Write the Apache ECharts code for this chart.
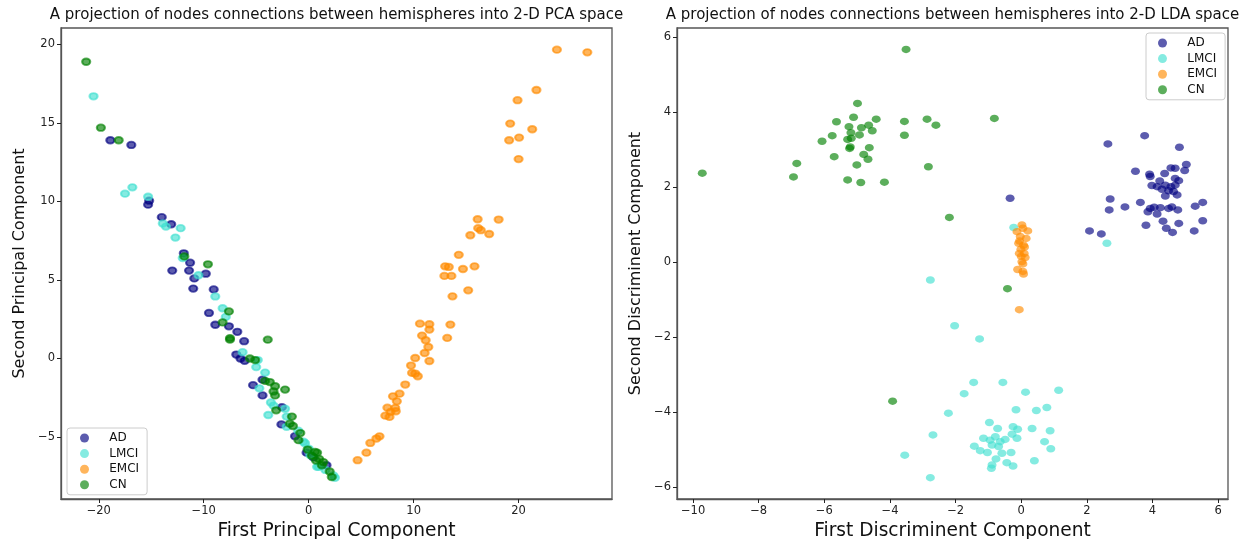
<!DOCTYPE html>
<html>
<head>
<meta charset="utf-8">
<script src="https://cdn.jsdelivr.net/npm/echarts@6/dist/echarts.min.js"></script>
<style>
html,body{margin:0;padding:0;background:#fff;}
#chart{width:1247px;height:539px;}
</style>
</head>
<body>
<div id="chart"></div>
<script>
// class names, same order as the legend
var groups = ['AD', 'LMCI', 'EMCI', 'CN'];
var colors = ['0,0,128', '64,224,208', '255,140,0', '0,128,0'];

// PCA projection (left panel)
var pcaAD = [[-18.9,13.9],[-16.9,13.6],[-15.2,10.05],[-15.3,9.8],[-14.0,9.0],[-13.1,8.55],[-11.9,6.7],[-11.3,6.1],
  [-13.0,5.6],[-11.4,5.6],[-10.9,5.1],[-9.8,5.4],[-11.0,4.45],[-9.05,4.4],[-9.5,2.9],[-8.9,2.15],[-7.6,2.05],
  [-6.8,1.7],[-6.15,1.1],[-6.9,0.25],[-6.5,0.0],[-6.1,-0.15],[-4.4,-1.35],[-5.3,-1.7],[-4.4,-2.35],[-2.55,-3.1],
  [-2.6,-4.2],[-1.3,-4.95],[-0.2,-6.0],[0.45,-6.3],[1.7,-6.8]];
var pcaLMCI = [[-20.5,16.7],[-17.5,10.5],[-16.8,10.9],[-15.3,10.3],[-13.9,8.6],[-13.6,8.4],[-12.2,8.3],[-12.7,7.7],
  [-12.0,6.4],[-10.5,5.3],[-8.9,3.95],[-8.2,3.2],[-7.9,2.65],[-6.3,0.4],[-4.85,-0.1],[-5.0,-0.55],[-4.15,-0.9],
  [-4.7,-1.9],[-3.6,-2.8],[-3.35,-3.0],[-2.25,-3.2],[-3.85,-3.6],[-2.1,-3.7],[-2.1,-4.35],[-1.0,-4.6],[-0.5,-5.3],
  [-0.35,-5.4],[0.0,-5.75],[0.15,-6.15],[0.8,-6.9],[0.95,-6.9],[2.35,-7.45],[2.5,-7.6],[1.6,-7.1]];
var pcaEMCI = [[23.65,19.67],[26.55,19.5],[21.7,17.1],[19.9,16.45],[19.2,14.96],[21.3,14.6],[20.05,14.07],[19.1,13.9],
  [20.0,12.7],[16.1,8.87],[18.1,8.85],[16.15,8.3],[16.4,8.17],[17.2,7.93],[15.4,7.85],[14.3,6.6],[13.0,5.87],
  [13.35,5.83],[14.7,5.7],[15.8,5.87],[12.93,5.26],[13.6,5.26],[15.2,4.34],[13.7,3.96],[10.6,2.22],[11.5,2.18],
  [11.5,1.84],[13.5,2.16],[10.8,1.46],[11.15,1.16],[13.2,1.31],[11.4,0.73],[11.05,0.35],[11.5,-0.16],[10.15,0.03],
  [9.75,-0.45],[9.85,-0.92],[10.15,-0.96],[10.4,-1.13],[9.2,-1.66],[8.66,-2.24],[8.03,-2.41],[8.4,-2.73],[7.5,-3.13],
  [8.25,-3.15],[7.8,-3.4],[8.3,-3.36],[7.3,-3.64],[7.7,-3.72],[6.75,-4.96],[6.45,-5.1],[5.87,-5.38],[5.5,-6.0],[4.66,-6.48]];
var pcaCN = [[-21.2,18.9],[-19.8,14.7],[-18.1,13.9],[-11.85,6.5],[-9.6,6.0],[-7.6,3.0],[-8.2,2.3],[-7.5,1.3],[-7.5,1.2],
  [-3.9,1.2],[-5.6,0.0],[-5.1,-0.1],[-4.15,-1.43],[-3.7,-1.5],[-3.2,-1.77],[-2.25,-1.98],[-3.35,-2.1],[-3.2,-2.35],
  [-3.1,-3.3],[-1.6,-3.7],[-1.8,-4.15],[-1.5,-4.3],[-0.8,-4.75],[-0.97,-5.2],[-0.1,-5.8],[0.6,-5.95],[0.8,-6.0],
  [0.7,-6.5],[1.0,-6.4],[1.25,-6.8],[2.0,-7.2],[2.2,-7.55],[1.4,-6.6],[0.3,-6.2]];

// LDA projection (right panel)
var ldaAD = [[3.76,3.37],[2.64,3.15],[4.82,3.06],[5.03,2.6],[3.48,2.42],[3.91,2.34],[4.37,2.36],[4.56,2.51],[4.69,2.5],
  [4.98,2.44],[3.93,2.28],[4.22,2.16],[4.69,2.23],[4.8,2.17],[3.98,2.04],[4.14,2.01],[4.39,2.05],[4.56,2.01],[4.69,2.05],
  [4.29,1.94],[4.49,1.9],[4.64,1.88],[4.39,1.76],[4.75,1.79],[2.71,1.68],[3.63,1.59],[5.53,1.59],[2.68,1.39],[3.16,1.47],
  [3.93,1.43],[4.05,1.46],[4.24,1.45],[4.49,1.43],[4.59,1.47],[4.77,1.39],[5.3,1.49],[3.86,1.34],[4.14,1.28],[3.8,0.98],
  [4.32,1.09],[4.8,1.03],[5.53,1.1],[4.42,0.9],[4.61,0.79],[5.27,0.83],[2.08,0.83],[2.44,0.75],[-0.34,1.7]];
var ldaLMCI = [[-0.23,0.92],[2.61,0.5],[-2.77,-0.48],[-2.03,-1.7],[-1.27,-2.05],[-1.45,-3.21],[-0.56,-3.21],[-1.74,-3.51],
  [0.13,-3.47],[1.14,-3.42],[-2.22,-4.03],[-0.16,-3.94],[0.46,-3.96],[0.78,-3.88],[-2.69,-4.61],[-0.97,-4.28],[-0.72,-4.44],
  [-0.25,-4.39],[-0.11,-4.46],[0.33,-4.44],[0.88,-4.5],[-1.15,-4.7],[-0.95,-4.75],[-0.79,-4.66],[-0.64,-4.79],[-0.49,-4.73],
  [-0.28,-4.59],[-0.13,-4.7],[-0.89,-4.88],[-0.69,-4.92],[-1.43,-4.91],[-1.25,-5.03],[-1.03,-5.08],[-0.59,-5.1],[-0.31,-5.08],
  [0.71,-4.79],[0.9,-4.98],[-3.55,-5.15],[-0.77,-5.25],[0.4,-5.3],[-0.89,-5.41],[-0.44,-5.35],[-0.25,-5.44],[-0.91,-5.5],[-2.77,-5.75]];
var ldaEMCI = [[0.02,0.99],[-0.13,0.81],[0.2,0.83],[-0.03,0.68],[0.15,0.63],[-0.08,0.5],[0.07,0.45],[-0.01,0.34],[0.09,0.23],
  [-0.06,0.23],[0.12,0.12],[0.02,0.01],[-0.11,-0.2],[0.07,-0.32],[0.05,-0.25],[0.05,0.9],[-0.05,0.56],[0.1,0.4],[0.0,0.15],
  [0.05,-0.05],[-0.06,-1.27]];
var ldaCN = [[-3.51,5.67],[-9.72,2.37],[-6.94,2.27],[-6.84,2.63],[-4.99,4.23],[-5.11,3.86],[-5.63,3.74],[-4.42,3.81],[-5.76,3.37],
  [-6.07,3.22],[-5.25,3.61],[-5.19,3.45],[-4.93,3.39],[-4.87,3.58],[-4.65,3.65],[-4.54,3.5],[-5.29,3.27],[-5.18,3.3],[-5.21,3.07],
  [-5.23,3.03],[-4.63,3.05],[-5.7,2.81],[-4.8,2.87],[-4.67,2.74],[-5.01,2.59],[-5.29,2.19],[-4.89,2.12],[-4.17,2.13],[-3.56,3.75],
  [-3.56,3.38],[-2.87,3.81],[-2.6,3.65],[-2.83,2.54],[-0.82,3.83],[-2.19,1.19],[-0.42,-0.71],[-3.92,-3.71]];

// tick labels
var pcaXTicks = [-20, -10, 0, 10, 20];
var pcaYTicks = [-5, 0, 5, 10, 15, 20];
var ldaXTicks = [-10, -8, -6, -4, -2, 0, 2, 4, 6];
var ldaYTicks = [-6, -4, -2, 0, 2, 4, 6];

var FONT = 'DejaVu Sans';
function minus(v) { return String(v).replace('-', '\u2212'); }

function axis(grid, min, max, ticks, name, gap, vertical) {
  return {
    type: 'value', gridIndex: grid, min: min, max: max,
    name: name, nameLocation: 'middle', nameGap: gap,
    nameRotate: vertical ? 90 : 0,
    nameTextStyle: {fontFamily: FONT, fontSize: vertical ? 16 : 18.6, color: '#111'},
    splitLine: {show: false},
    axisLine: {show: true, onZero: false, lineStyle: {color: '#555', width: 1.3}},
    axisTick: {show: true, length: 4, customValues: ticks, lineStyle: {color: '#222', width: 1}},
    axisLabel: {customValues: ticks, formatter: minus,
      fontFamily: FONT, fontSize: 11.5, color: '#222', margin: 6}
  };
}

function legendAt(left, top, pad) {
  return {
    data: groups, orient: 'vertical', left: left, top: top, padding: pad,
    icon: 'circle', itemWidth: 9, itemHeight: 9, itemGap: 3.6,
    itemStyle: {borderWidth: 0},
    formatter: function (n) { return '    ' + n; },
    textStyle: {fontFamily: FONT, fontSize: 12, color: '#111', lineHeight: 12},
    borderColor: '#ccc', borderWidth: 1, borderRadius: 3, backgroundColor: 'rgba(255,255,255,0.8)'
  };
}

var series = [];
[[pcaAD, pcaLMCI, pcaEMCI, pcaCN], [ldaAD, ldaLMCI, ldaEMCI, ldaCN]].forEach(function (sets, g) {
  sets.forEach(function (d, i) {
    var c = 'rgba(' + colors[i] + ',0.8)';
    series.push({
      type: 'scatter', name: groups[i], xAxisIndex: g, yAxisIndex: g, data: d,
      symbol: 'circle', symbolSize: g === 0 ? [8, 6.5] : [9, 7.5],
      itemStyle: g === 0 ? {color: c, borderColor: c, borderWidth: 2} : {color: c},
      emphasis: {disabled: true}
    });
  });
});

var chart = echarts.init(document.getElementById('chart'));
chart.setOption({
  animation: false,
  backgroundColor: '#fff',
  title: [
    {text: 'A projection of nodes connections between hemispheres into 2-D PCA space', left: 336.5, top: 8,
      padding: 0, textAlign: 'center', textStyle: {fontFamily: FONT, fontSize: 15, fontWeight: 'normal', color: '#111'}},
    {text: 'A projection of nodes connections between hemispheres into 2-D LDA space', left: 952.5, top: 8,
      padding: 0, textAlign: 'center', textStyle: {fontFamily: FONT, fontSize: 15, fontWeight: 'normal', color: '#111'}}
  ],
  grid: [
    {left: 61, top: 28, width: 551, height: 471, outerBoundsMode: 'none', containLabel: false,
      show: true, borderColor: '#555', borderWidth: 1.3, backgroundColor: 'transparent'},
    {left: 677, top: 28, width: 551, height: 471, outerBoundsMode: 'none', containLabel: false,
      show: true, borderColor: '#555', borderWidth: 1.3, backgroundColor: 'transparent'}
  ],
  xAxis: [
    axis(0, -23.6, 28.9, pcaXTicks, 'First Principal Component', 16, false),
    axis(1, -10.49, 6.3, ldaXTicks, 'First Discriminent Component', 16, false)
  ],
  yAxis: [
    axis(0, -8.95, 21.05, pcaYTicks, 'Second Principal Component', 33, true),
    axis(1, -6.32, 6.24, ldaYTicks, 'Second Discriminent Component', 33, true)
  ],
  legend: [legendAt(67, 428, [4, 8, 4, 13]), legendAt(1146, 33, [4, 8, 4, 12])],
  series: series
});
</script>
</body>
</html>
